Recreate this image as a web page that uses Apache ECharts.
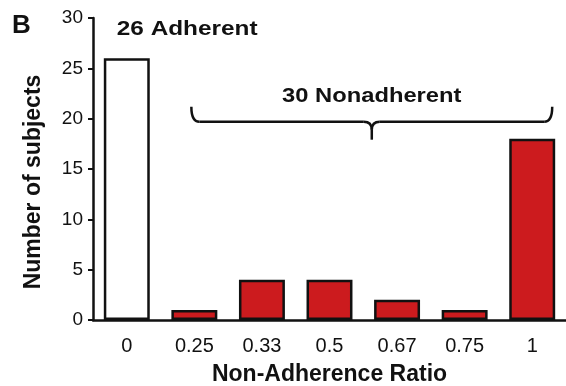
<!DOCTYPE html>
<html lang="en">
<head>
    <meta charset="utf-8">
    <title>Non-Adherence Ratio</title>
    <script src="https://cdn.jsdelivr.net/npm/echarts@6/dist/echarts.min.js"></script>
    <style>
        html, body { margin: 0; padding: 0; background: #fff; }
        #chart { width: 566px; height: 386px; }
    </style>
</head>
<body>
<div id="chart"></div>
<script>
    var ratios = ['0', '0.25', '0.33', '0.5', '0.67', '0.75', '1'];
    var subjects = [26, 1, 4, 4, 2, 1, 18];
    var yTicks = [0, 5, 10, 15, 20, 25, 30];

    var font = 'Liberation Sans, Arial, sans-serif';
    var ink = '#111';
    var chart = echarts.init(document.getElementById('chart'));

    chart.setOption({
        animation: false,
        backgroundColor: '#fff',
        grid: { left: 93, right: 0, top: 18, bottom: 66, outerBoundsMode: 'none' },
        xAxis: {
            type: 'category',
            data: ratios,
            name: 'Non-Adherence Ratio',
            nameLocation: 'middle',
            nameGap: 43,
            nameTextStyle: { fontFamily: font, fontSize: 23, fontWeight: 'bold', color: ink },
            axisLine: { lineStyle: { color: ink, width: 2.5 } },
            axisTick: { alignWithLabel: true, length: 6, lineStyle: { color: ink, width: 2 } },
            axisLabel: { fontFamily: font, fontSize: 20, color: ink, margin: 16 }
        },
        yAxis: {
            type: 'value',
            min: yTicks[0],
            max: yTicks[yTicks.length - 1],
            interval: 5,
            name: 'Number of subjects',
            nameLocation: 'middle',
            nameGap: 48,
            nameTextStyle: { fontFamily: font, fontSize: 23, fontWeight: 'bold', color: ink, padding: [0, 0, 0, -26] },
            axisLine: { show: true, lineStyle: { color: ink, width: 2.5 } },
            axisTick: { show: true, length: 5, lineStyle: { color: ink, width: 2 } },
            axisLabel: { fontFamily: font, fontSize: 19, color: ink, margin: 10 },
            splitLine: { show: false }
        },
        series: [{
            type: 'bar',
            barWidth: '68%',
            data: subjects.map(function (v, i) {
                return {
                    value: v,
                    itemStyle: { color: i === 0 ? '#fff' : '#cc1b1e' }
                };
            }),
            itemStyle: { borderColor: ink, borderWidth: 2.5 }
        }]
    });

    // annotations placed from data coordinates
    function px(cat, val) {
        return chart.convertToPixel({ gridIndex: 0 }, [cat, val]);
    }
    var a = px(1, 19.7), b = px(6, 19.7);
    var x1 = a[0] - 3, x2 = b[0] + 20, y = a[1];
    var xm = (x1 + x2) / 2;
    var r = 8;
    var braceStyle = { stroke: ink, lineWidth: 2.5, fill: null };
    function curve(p1, c, p2) {
        return { type: 'bezierCurve', shape: { x1: p1[0], y1: p1[1], cpx1: c[0], cpy1: c[1], x2: p2[0], y2: p2[1] }, style: braceStyle };
    }
    function seg(p1, p2) {
        return { type: 'line', shape: { x1: p1[0], y1: p1[1], x2: p2[0], y2: p2[1] }, style: braceStyle };
    }
    var brace = [
        curve([x1, y - 15], [x1, y], [x1 + r, y]),
        seg([x1 + r, y], [xm - r, y]),
        curve([xm - r, y], [xm, y], [xm, y + r]),
        seg([xm, y + r], [xm, y + 18]),
        curve([xm + r, y], [xm, y], [xm, y + r]),
        seg([xm + r, y], [x2 - r, y]),
        curve([x2 - r, y], [x2, y], [x2, y - 15])
    ];
    var adh = px(0, 28.9);
    var non = px(0, 22.2);

    chart.setOption({
        graphic: [
            {
                type: 'text', left: 12, top: 13,
                style: { text: 'B', fontFamily: font, fontSize: 26, fontWeight: 'bold', fill: ink }
            },
            {
                type: 'text', x: adh[0] - 10, y: adh[1], scaleX: 1.16,
                style: { text: '26 Adherent', fontFamily: font, fontSize: 21, fontWeight: 'bold', fill: ink, verticalAlign: 'middle' }
            },
            {
                type: 'text', x: xm, y: non[1], scaleX: 1.13,
                style: { text: '30 Nonadherent', fontFamily: font, fontSize: 21, fontWeight: 'bold', fill: ink, align: 'center', verticalAlign: 'middle' }
            }
        ].concat(brace)
    });
</script>
</body>
</html>
